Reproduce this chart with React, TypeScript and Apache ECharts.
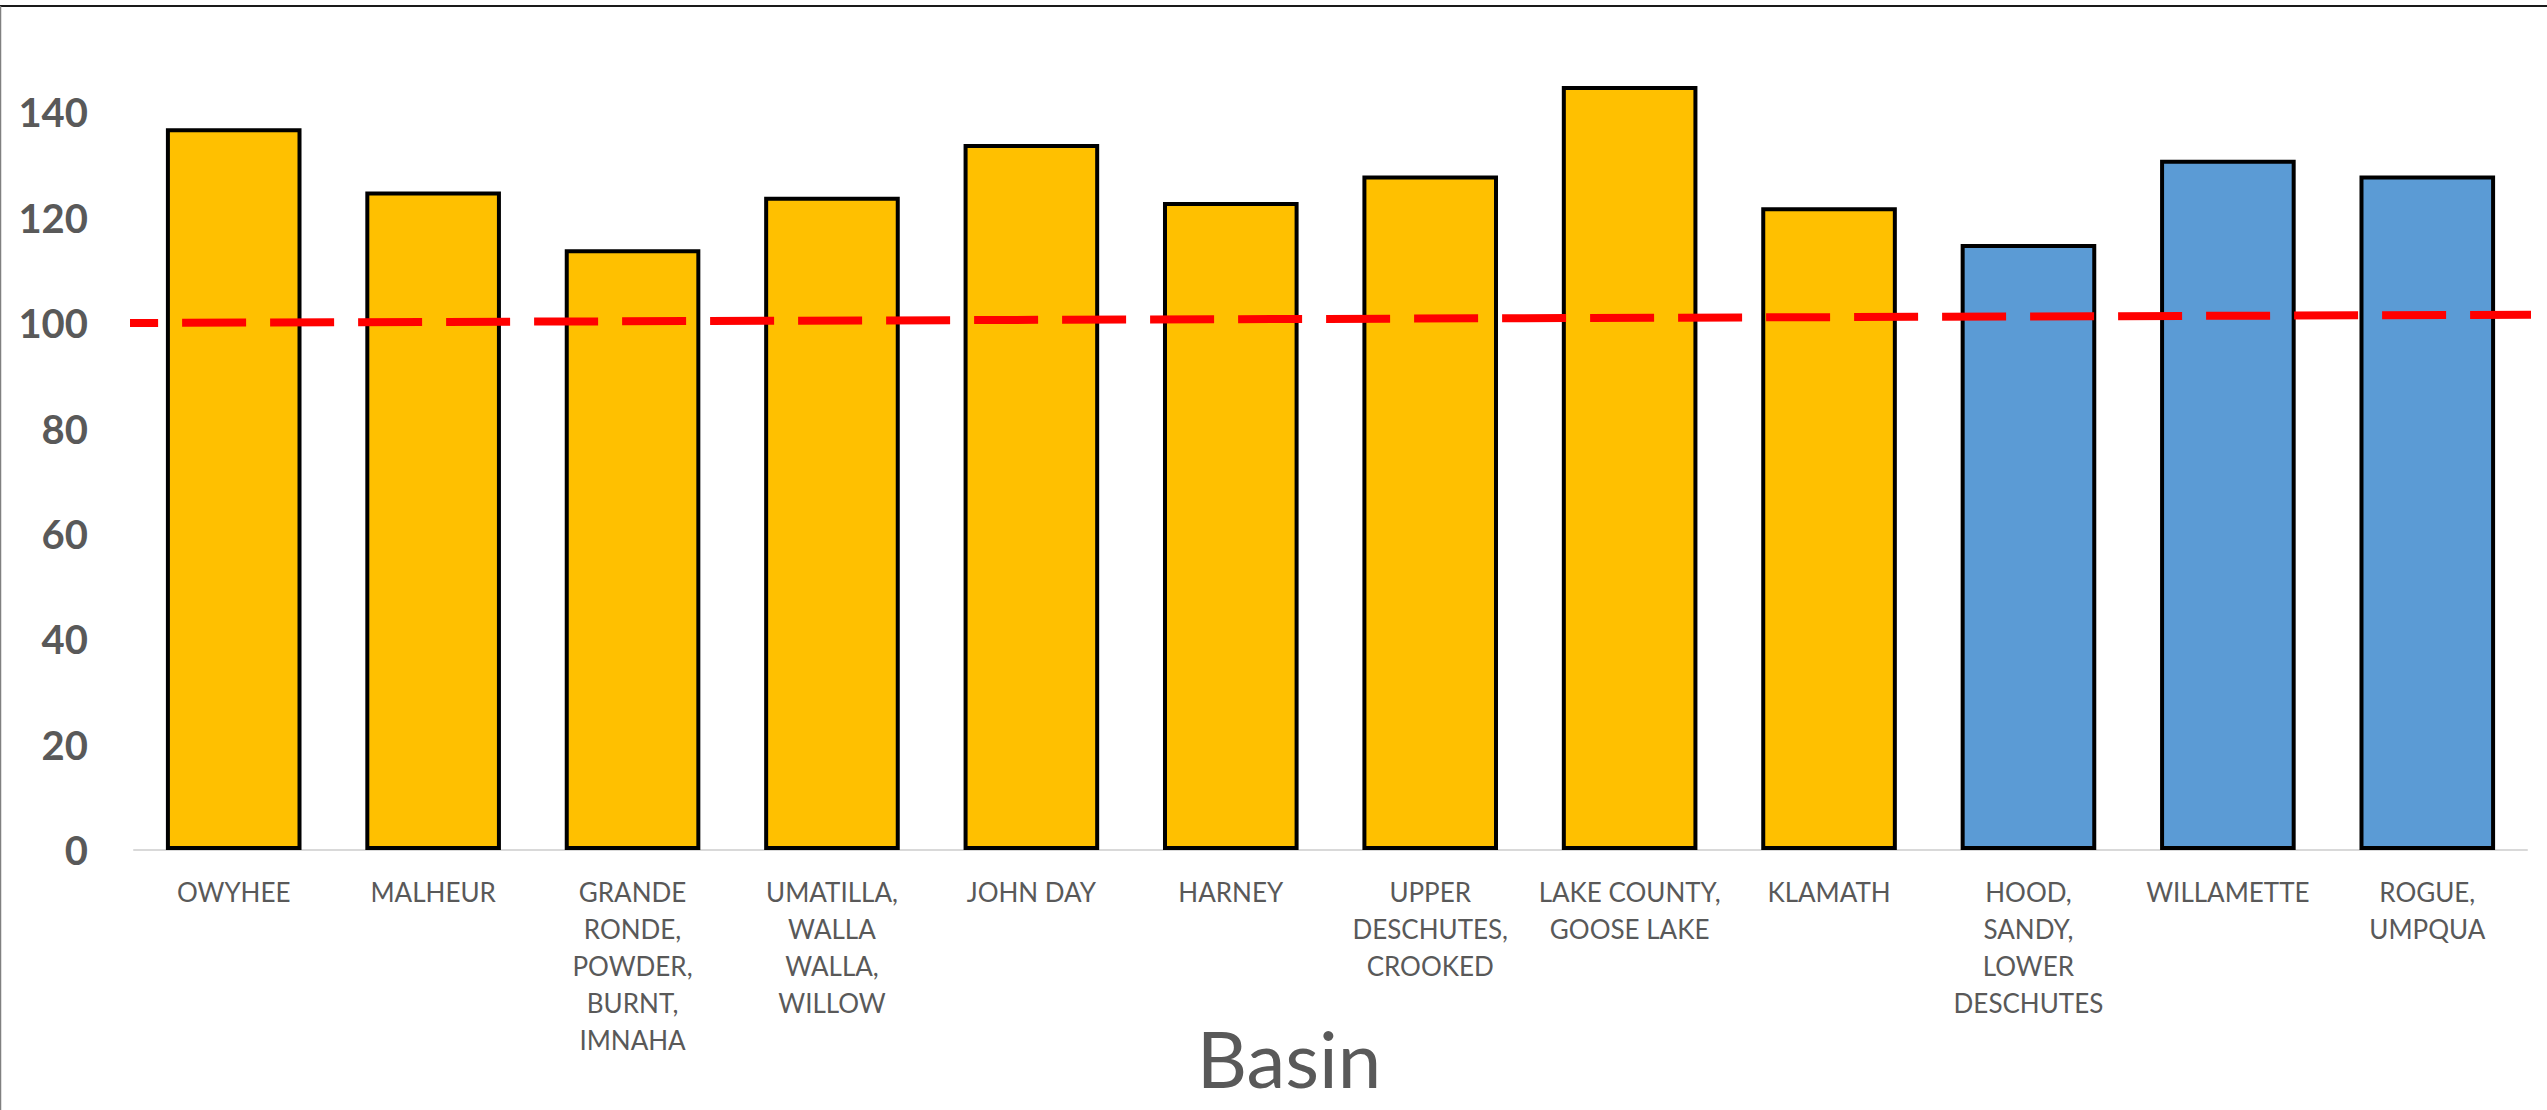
import React, { useEffect, useRef } from "react";
import * as echarts from "echarts";

const CATEGORIES = [
  "OWYHEE",
  "MALHEUR",
  "GRANDE\nRONDE,\nPOWDER,\nBURNT,\nIMNAHA",
  "UMATILLA,\nWALLA\nWALLA,\nWILLOW",
  "JOHN DAY",
  "HARNEY",
  "UPPER\nDESCHUTES,\nCROOKED",
  "LAKE COUNTY,\nGOOSE LAKE",
  "KLAMATH",
  "HOOD,\nSANDY,\nLOWER\nDESCHUTES",
  "WILLAMETTE",
  "ROGUE,\nUMPQUA",
];
const VALUES = [137, 125, 114, 124, 134, 123, 128, 145, 122, 115, 131, 128];
const SIDE = ["east", "east", "east", "east", "east", "east", "east", "east", "east", "west", "west", "west"];
const SIDE_COLORS: Record<string, string> = { east: "#FFC000", west: "#5B9BD5" };
const Y_MIN = 0;
const Y_MAX = 160;
const Y_STEP = 20;
// reference line: [position in category-index units, value]
const REFERENCE_LINE = [
  [-0.7, 100.0],
  [11.57, 101.6],
];

export default function App() {
  const ref = useRef<HTMLDivElement>(null);
  useEffect(() => {
    if (!ref.current) return;
    const chart = echarts.init(ref.current, null, { renderer: "svg" });
    const gray = "#595959";
    chart.setOption({
      animation: false,
      backgroundColor: "#ffffff",
      grid: { left: 134, right: 20, top: 7, bottom: 260, containLabel: false },
      xAxis: [
        {
          type: "category",
          data: CATEGORIES,
          axisLine: { show: true, lineStyle: { color: "#D9D9D9", width: 2 } },
          axisTick: { show: false },
          axisLabel: {
            interval: 0,
            color: gray,
            fontFamily: "Lato",
            fontSize: 26,
            lineHeight: 37,
            margin: 23,
          },
          splitLine: { show: false },
        },
        {
          type: "value",
          min: -0.5,
          max: 11.5,
          show: false,
        },
      ],
      yAxis: {
        type: "value",
        min: Y_MIN,
        max: Y_MAX,
        interval: Y_STEP,
        axisLine: { show: false },
        axisTick: { show: false },
        splitLine: { show: false },
        axisLabel: {
          showMaxLabel: false,
          color: gray,
          fontFamily: "Lato",
          fontWeight: "bold",
          fontSize: 40,
          margin: 46,
        },
      },
      graphic: [
        {
          type: "line",
          shape: { x1: 0, y1: 6, x2: 2547, y2: 6 },
          style: { stroke: "#1a1a1a", lineWidth: 2 },
          silent: true,
        },
        {
          type: "line",
          shape: { x1: 0.5, y1: 6, x2: 0.5, y2: 1110 },
          style: { stroke: "#808080", lineWidth: 1.5 },
          silent: true,
        },
        {
          type: "text",
          x: 1289,
          y: 1058,
          style: {
            text: "Basin",
            align: "center",
            verticalAlign: "middle",
            fill: gray,
            fontFamily: "Lato",
            fontSize: 78,
          },
          silent: true,
        },
      ],
      series: [
        {
          type: "bar",
          barWidth: "68%",
          data: VALUES.map((v, i) => ({
            value: v,
            itemStyle: { color: SIDE_COLORS[SIDE[i]] },
          })),
          itemStyle: { borderColor: "#000000", borderWidth: 4 },
          z: 2,
        },
        {
          type: "line",
          xAxisIndex: 1,
          data: REFERENCE_LINE,
          symbol: "none",
          clip: false,
          lineStyle: { color: "#FF0000", width: 8, type: [64, 24], cap: "butt" },
          z: 3,
        },
      ],
    });
    return () => chart.dispose();
  }, []);
  return (
    <div
      ref={ref}
      style={{ position: "fixed", left: 0, top: 0, width: 2547, height: 1110 }}
    />
  );
}
